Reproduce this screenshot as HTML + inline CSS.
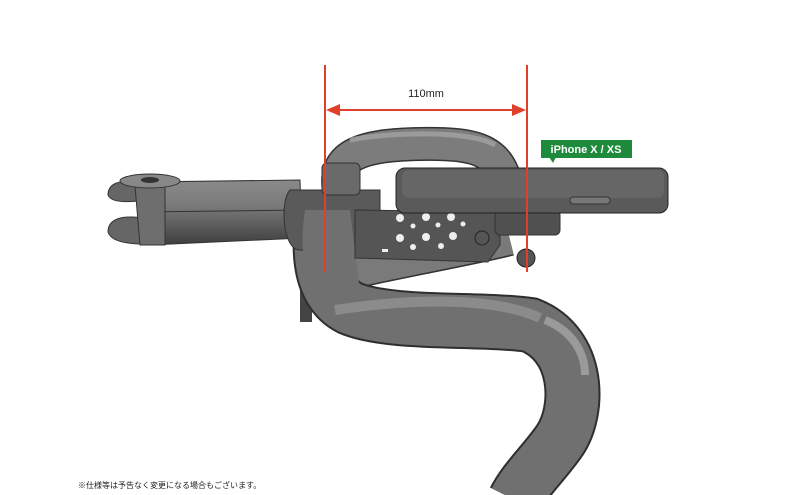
<!DOCTYPE html>
<html><head><meta charset="utf-8"><style>
html,body{margin:0;padding:0;background:#fff;width:800px;height:495px;overflow:hidden}
svg{display:block}
</style></head><body>
<svg width="800" height="495" viewBox="0 0 800 495" xmlns="http://www.w3.org/2000/svg">
<defs>
<linearGradient id="st" x1="0" y1="0" x2="0" y2="1"><stop offset="0" stop-color="#8a8a8a"/><stop offset="0.4" stop-color="#7a7a7a"/><stop offset="1" stop-color="#3e3e3e"/></linearGradient>
</defs>
<!-- stem -->
<path d="M140 182 L300 180 L302 238 L150 245 Z" fill="url(#st)" stroke="#333"/>
<line x1="145" y1="212" x2="300" y2="210" stroke="#333"/>
<path d="M140 182 Q108 178 108 195 Q112 205 145 200 Z" fill="#666" stroke="#333"/>
<path d="M145 218 Q108 213 108 232 Q112 245 150 244 Z" fill="#666" stroke="#333"/>
<path d="M135 186 L165 185 L165 245 L140 245 Z" fill="#6e6e6e" stroke="#333"/>
<ellipse cx="150" cy="181" rx="30" ry="7" fill="#888" stroke="#333"/>
<ellipse cx="150" cy="180" rx="9" ry="3" fill="#333"/>
<rect x="300" y="290" width="12" height="32" fill="#444"/>
<!-- hidden under-tube -->
<path d="M345 275 C 400 262, 470 250, 510 240" fill="none" stroke="#333" stroke-width="32"/>
<path d="M345 275 C 400 262, 470 250, 510 240" fill="none" stroke="#7a7a7a" stroke-width="29"/>
<!-- top loop -->
<path d="M340 195 C 330 155, 360 145, 420 144 C 480 143, 505 150, 508 200" fill="none" stroke="#333" stroke-width="34" stroke-linecap="round"/>
<path d="M340 195 C 330 155, 360 145, 420 144 C 480 143, 505 150, 508 200" fill="none" stroke="#7c7c7c" stroke-width="31" stroke-linecap="round"/>
<path d="M350 140 C 390 132, 470 130, 495 145" fill="none" stroke="#a8a8a8" stroke-width="5" opacity="0.7"/>
<!-- drop -->
<path d="M325 200 C 318 240, 315 290, 350 308 C 390 325, 480 318, 530 325 C 580 345, 580 410, 560 440 C 545 462, 525 480, 515 500" fill="none" stroke="#2e2e2e" stroke-width="56"/>
<path d="M325 200 C 318 240, 315 290, 350 308 C 390 325, 480 318, 530 325 C 580 345, 580 410, 560 440 C 545 462, 525 480, 515 500" fill="none" stroke="#707070" stroke-width="52"/>
<path d="M335 310 C 400 300, 490 295, 540 318" fill="none" stroke="#9c9c9c" stroke-width="10" opacity="0.6"/>
<path d="M545 320 C 570 330, 585 350, 585 375" fill="none" stroke="#b5b5b5" stroke-width="8" opacity="0.6"/>
<!-- clamp -->
<path d="M290 190 C 280 200, 282 250, 300 250 L380 252 L380 190 Z" fill="#5a5a5a" stroke="#333"/>
<rect x="322" y="163" width="38" height="32" rx="5" fill="#6a6a6a" stroke="#333"/>
<path d="M305 210 C 300 240, 302 275, 318 292 L360 292 L350 210 Z" fill="#707070"/>
<!-- plate -->
<path d="M355 210 L500 212 L500 245 L488 262 L355 258 Z" fill="#555" stroke="#333"/>
<g fill="#eee">
<circle cx="400" cy="218" r="4"/><circle cx="426" cy="217" r="4"/><circle cx="451" cy="217" r="4"/>
<circle cx="413" cy="226" r="2.5"/><circle cx="438" cy="225" r="2.5"/><circle cx="463" cy="224" r="2.5"/>
<circle cx="400" cy="238" r="4"/><circle cx="426" cy="237" r="4"/><circle cx="453" cy="236" r="4"/>
<circle cx="413" cy="247" r="3"/><circle cx="441" cy="246" r="3"/><rect x="382" y="249" width="6" height="3"/>
</g>
<circle cx="482" cy="238" r="7" fill="#555" stroke="#222"/>
<rect x="495" y="210" width="65" height="25" rx="5" fill="#505050" stroke="#333"/>
<circle cx="526" cy="258" r="9" fill="#555" stroke="#222"/>
<!-- phone -->
<rect x="396" y="168" width="272" height="45" rx="9" fill="#5a5a5a" stroke="#222"/>
<rect x="402" y="170" width="262" height="28" rx="7" fill="#666"/>
<rect x="570" y="197" width="40" height="7" rx="3" fill="#777" stroke="#333"/>
<!-- dimension lines -->
<g stroke="#e0402a" stroke-width="2">
<line x1="325" y1="65" x2="325" y2="272"/>
<line x1="527" y1="65" x2="527" y2="272"/>
<line x1="330" y1="110" x2="522" y2="110"/>
</g>
<path d="M326 110 L340 104 L340 116 Z" fill="#e0402a"/>
<path d="M526 110 L512 104 L512 116 Z" fill="#e0402a"/>
<text x="426" y="97" text-anchor="middle" font-family="Liberation Sans, sans-serif" font-size="11" fill="#222">110mm</text>
<!-- label -->
<rect x="541" y="140" width="91" height="18" fill="#1e8a3c"/>
<path d="M549 157 L556 157 L553 163 Z" fill="#1e8a3c"/>
<text x="586" y="153" text-anchor="middle" font-family="Liberation Sans, sans-serif" font-size="11" font-weight="bold" fill="#fff">iPhone X / XS</text>
<text x="78" y="488" font-family="Liberation Sans, 'Noto Sans CJK JP', sans-serif" font-size="8" fill="#222">※仕様等は予告なく変更になる場合もございます。</text>
</svg>
</body></html>
